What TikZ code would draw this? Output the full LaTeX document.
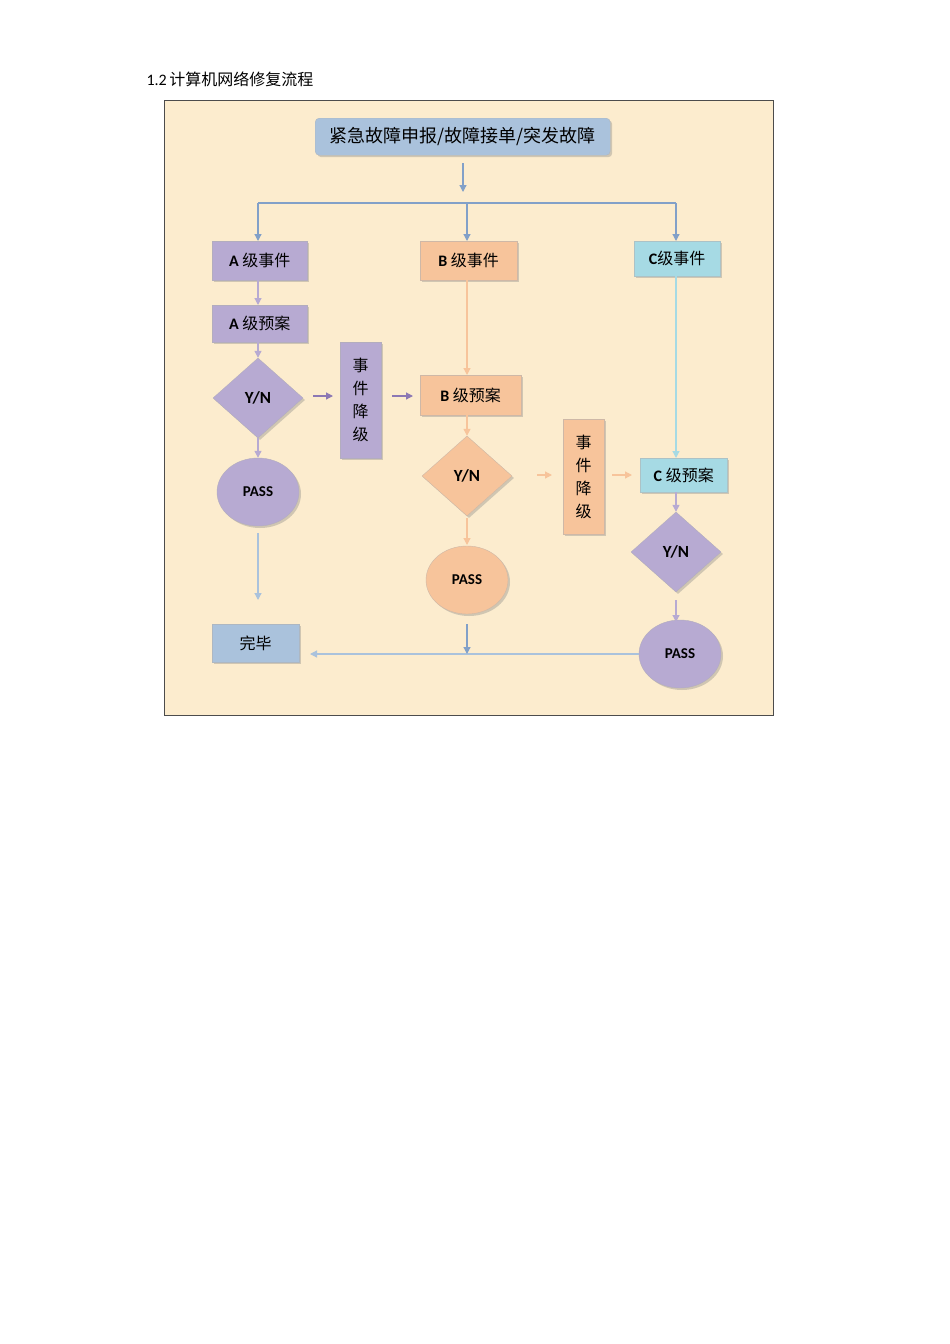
\documentclass[tikz,border=0pt]{standalone}
\usepackage{fontspec}
\setmainfont{Carlito}
\newfontfamily\cjk{Noto Sans CJK SC}
\usetikzlibrary{shapes.geometric,shadows,arrows.meta}
\definecolor{bg}{RGB}{252,236,206}
\definecolor{pu}{RGB}{183,170,210}
\definecolor{pud}{RGB}{140,120,180}
\definecolor{orl}{RGB}{247,196,155}
\definecolor{ord}{RGB}{240,170,120}
\definecolor{tl}{RGB}{166,218,228}
\definecolor{tld}{RGB}{120,200,215}
\definecolor{bl}{RGB}{170,194,220}
\definecolor{bld}{RGB}{130,160,200}
\tikzset{
 box/.style={draw=#1!70!black!60, fill=#1, drop shadow={shadow xshift=2pt,shadow yshift=-2pt,opacity=.35}, font=\fontsize{16}{16}\selectfont, inner sep=0pt, anchor=north west},
 vbox/.style={box=#1, align=center, font=\cjk\fontsize{16}{16}\selectfont},
 dia/.style={diamond, draw=#1!70!black!60, fill=#1, drop shadow={shadow xshift=2pt,shadow yshift=-2pt,opacity=.35}, minimum width=90pt, minimum height=80pt, inner sep=0pt, aspect=1.1, font=\bfseries\fontsize{17}{17}\selectfont},
 ell/.style={ellipse, draw=#1!70!black!60, fill=#1, drop shadow={shadow xshift=2pt,shadow yshift=-2pt,opacity=.35}, minimum width=82pt, minimum height=68pt, inner sep=0pt, font=\bfseries\fontsize{15}{15}\selectfont},
 arr/.style={draw=#1, line width=1.2pt, -{Triangle[length=7pt,width=7pt]}},
}
\begin{document}
\begin{tikzpicture}[x=1pt,y=-1pt]
\useasboundingbox (0,0) rectangle (950,1344);
\fill[white] (0,0) rectangle (950,1344);
\node[anchor=west, font=\fontsize{16}{16}\selectfont] (title) at (143,79) {1.2\,{\cjk 计算机网络修复流程}};
\draw[fill=bg, draw=black!70, line width=0.8pt] (164,100) rectangle (773,715);
% nodes
\node[box=bl, rounded corners=4pt, minimum width=295pt, minimum height=37pt, font=\fontsize{18}{18}\selectfont] (top) at (315,118) {\cjk 紧急故障申报/故障接单/突发故障};
\node[box=pu, minimum width=95pt, minimum height=39pt] (ae) at (212,241) {\textbf{A} {\cjk 级事件}};
\node[box=orl, minimum width=97pt, minimum height=39pt] (be) at (420,241) {\textbf{B} {\cjk 级事件}};
\node[box=tl, minimum width=86pt, minimum height=35pt] (ce) at (634,241) {\textbf{C}{\cjk 级事件}};
\node[box=pu, minimum width=95pt, minimum height=37pt] (ap) at (212,305) {\textbf{A} {\cjk 级预案}};
\node[dia=pu] (ayn) at (258,398) {Y/N};
\node[vbox=pu, minimum width=41pt, minimum height=116pt] (ad) at (340,342) {事\\[7pt]件\\[7pt]降\\[7pt]级};
\node[box=orl, minimum width=101pt, minimum height=40pt] (bp) at (420,375) {\textbf{B} {\cjk 级预案}};
\node[dia=orl] (byn) at (467,476) {Y/N};
\node[ell=pu] (apass) at (258,492) {PASS};
\node[ell=orl] (bpass) at (467,580) {PASS};
\node[vbox=orl, minimum width=41pt, minimum height=115pt] (bd) at (563,419) {事\\[7pt]件\\[7pt]降\\[7pt]级};
\node[box=tl, minimum width=87pt, minimum height=34pt] (cp) at (640,458) {\textbf{C} {\cjk 级预案}};
\node[dia=pu] (cyn) at (676,552) {Y/N};
\node[ell=pu] (cpass) at (680,654) {PASS};
\node[box=bl, minimum width=87pt, minimum height=38pt] (done) at (212,624) {\cjk 完毕};
% connectors
\coordinate (t1) at (463,163); \coordinate (t2) at (463,192);
\draw[arr=bld] (t1) -- (t2);
\coordinate (hl) at (258,203); \coordinate (hr) at (676,203); \coordinate (hm) at (467,203);
\draw[bld, line width=1.2pt] (hl) -- (hr);
\draw[arr=bld] (hl) -- (ae.north -| hl);
\draw[arr=bld] (hm) -- (be.north -| hm);
\draw[arr=bld] (hr) -- (ce.north -| hr);
\draw[arr=pu] (ae.south -| 258,0) -- (ap.north -| 258,0);
\draw[arr=pu] (ap.south -| 258,0) -- (ayn.north);
\coordinate (a1) at (313,396); \coordinate (a2) at (333,396);
\draw[arr=pud] (a1) -- (a2);
\coordinate (a3) at (392,396); \coordinate (a4) at (413,396);
\draw[arr=pud] (a3) -- (a4);
\draw[arr=pu] (ayn.south) -- (apass.north);
\draw[arr=orl] (be.south -| 467,0) -- (bp.north -| 467,0);
\draw[arr=orl] (bp.south -| 467,0) -- (byn.north);
\coordinate (b1) at (467,518); \coordinate (b2) at (467,545);
\draw[arr=orl] (b1) -- (b2);
\coordinate (b3) at (537,475); \coordinate (b4) at (552,475);
\draw[arr=orl] (b3) -- (b4);
\coordinate (b5) at (612,475); \coordinate (b6) at (632,475);
\draw[arr=orl] (b5) -- (b6);
\draw[arr=tl] (ce.south -| 676,0) -- (cp.north -| 676,0);
\draw[arr=pu] (cp.south -| 676,0) -- (cyn.north);
\coordinate (c1) at (676,600); \coordinate (c2) at (676,622);
\draw[arr=pu] (c1) -- (c2);
\coordinate (p1) at (258,533); \coordinate (p2) at (258,600);
\draw[arr=bl] (p1) -- (p2);
\coordinate (q1) at (310,654);
\draw[arr=bl] (cpass.west) -- (q1);
\coordinate (r1) at (467,624); \coordinate (r2) at (467,654);
\draw[arr=bld] (r1) -- (r2);
\end{tikzpicture}
\end{document}
